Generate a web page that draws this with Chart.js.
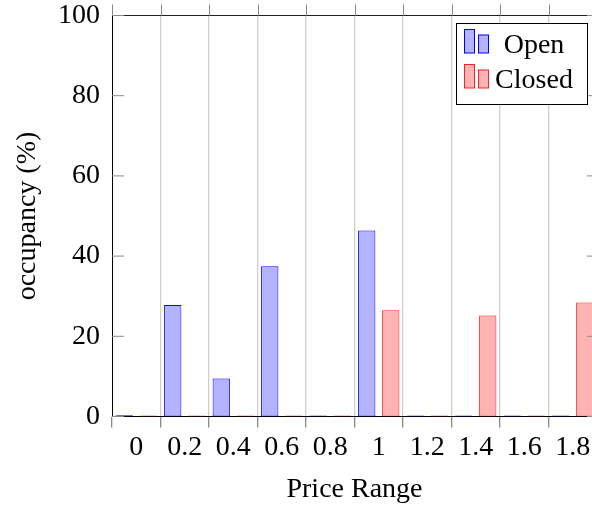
<!DOCTYPE html>
<html>
<head>
<meta charset="utf-8">
<script src="https://cdn.jsdelivr.net/npm/chart.js@4.4.1/dist/chart.umd.min.js"></script>
<style>
  html, body { margin: 0; padding: 0; overflow: hidden; background: #fff; }
  #wrap { width: 620px; height: 506px; }
</style>
</head>
<body>
<div id="wrap"><canvas id="c" width="620" height="506"></canvas></div>
<script>
// ---- data ----
const categories = ['0', '0.2', '0.4', '0.6', '0.8', '1', '1.2', '1.4', '1.6', '1.8'];
const openValues   = [0.3, 27.8, 9.5, 37.5, 0, 46.4, 0, 0, 0, 0];
const closedValues = [0, 0, 0, 0, 0, 26.5, 0, 25.2, 0, 28.4];
const yTicks = [0, 20, 40, 60, 80, 100];
const seriesNames = ['Open', 'Closed'];
const xTitle = 'Price Range';
const yTitle = 'occupancy (%)';

const FONT = "'Liberation Serif', 'Times New Roman', serif";
const TICK_GRAY = '#8a8a8a';

const decorPlugin = {
  id: 'decor',
  afterDraw(chart) {
    const ctx = chart.ctx;
    const ca = chart.chartArea;
    const xs = chart.scales.x, ys = chart.scales.y;
    ctx.save();
    // top axis line
    ctx.strokeStyle = '#222';
    ctx.lineWidth = 1;
    ctx.beginPath();
    ctx.moveTo(ca.left, ca.top);
    ctx.lineTo(ca.right, ca.top);
    ctx.stroke();
    // top x tick marks (outward)
    ctx.strokeStyle = TICK_GRAY;
    ctx.beginPath();
    for (let i = 0; i <= categories.length; i++) {
      const px = Math.round(xs.getPixelForValue(i - 0.5)) + 0.5;
      ctx.moveTo(px, ca.top - 11);
      ctx.lineTo(px, ca.top);
    }
    ctx.stroke();
    // y tick marks inward, left & right
    ctx.beginPath();
    yTicks.forEach(v => {
      const py = ys.getPixelForValue(v);
      ctx.moveTo(ca.left, py);
      ctx.lineTo(ca.left + 12, py);
      ctx.moveTo(ca.right, py);
      ctx.lineTo(ca.right - 10, py);
    });
    ctx.stroke();

    // legend
    const bx = 456.5, by = 23.5, bw = 131, bh = 81;
    ctx.fillStyle = '#fff';
    ctx.fillRect(bx, by, bw, bh);
    ctx.strokeStyle = '#000';
    ctx.lineWidth = 1;
    ctx.strokeRect(bx, by, bw, bh);
    const rows = [53, 88];
    chart.data.datasets.forEach((ds, i) => {
      const base = rows[i];
      ctx.fillStyle = ds.backgroundColor;
      ctx.strokeStyle = ds.borderColor;
      ctx.lineWidth = 1;
      const h1 = 23.5, h2 = 18;
      ctx.fillRect(464.5, base - h1, 10, h1);
      ctx.strokeRect(464.5, base - h1, 10, h1);
      ctx.fillRect(478.5, base - h2, 10, h2);
      ctx.strokeRect(478.5, base - h2, 10, h2);
      ctx.fillStyle = '#000';
      ctx.font = '28px ' + FONT;
      ctx.textAlign = 'center';
      ctx.textBaseline = 'alphabetic';
      ctx.fillText(ds.label, 534, base);
    });
    ctx.restore();
  }
};

new Chart(document.getElementById('c'), {
  type: 'bar',
  data: {
    labels: categories,
    datasets: [
      { label: seriesNames[0], data: openValues, backgroundColor: '#b3b3ff', borderColor: '#0000ff' },
      { label: seriesNames[1], data: closedValues, backgroundColor: '#ffb3b3', borderColor: '#ff2020' }
    ]
  },
  options: {
    responsive: false,
    animation: false,
    devicePixelRatio: 1,
    layout: { padding: { left: 0, top: 15.5, right: 23, bottom: 0 } },
    datasets: {
      bar: {
        borderWidth: 1,
        borderSkipped: false,
        minBarLength: 1,
        categoryPercentage: 0.99,
        barPercentage: 0.72
      }
    },
    plugins: {
      legend: { display: false },
      tooltip: { enabled: false }
    },
    scales: {
      x: {
        type: 'category',
        offset: true,
        afterFit(scale) { scale.height = 89.5; scale.paddingLeft = 0; scale.paddingRight = 0; },
        grid: {
          offset: true,
          display: true,
          drawOnChartArea: true,
          drawTicks: true,
          tickLength: 11,
          color: (c) => (c.index === 0 ? 'rgba(0,0,0,0)' : '#cfcfcf'),
          tickColor: TICK_GRAY,
          lineWidth: 1.3
        },
        border: { display: true, color: '#000', width: 1 },
        ticks: {
          color: '#000',
          font: { family: FONT, size: 28 },
          padding: 3,
          maxRotation: 0,
          autoSkip: false
        },
        title: {
          display: true,
          text: xTitle,
          color: '#000',
          font: { family: FONT, size: 28 },
          padding: { top: 0, bottom: 0 }
        }
      },
      y: {
        min: 0,
        max: 100,
        afterFit(scale) { scale.width = 112; scale.paddingTop = 0; scale.paddingBottom = 0; },
        afterBuildTicks(scale) { scale.ticks = yTicks.map(v => ({ value: v })); },
        grid: { display: false, drawTicks: false },
        border: { display: true, color: '#000', width: 1 },
        ticks: {
          color: '#000',
          font: { family: FONT, size: 28 },
          padding: 12
        },
        title: {
          display: true,
          text: yTitle,
          color: '#000',
          font: { family: FONT, size: 28 },
          padding: { top: 11, bottom: 0 }
        }
      }
    }
  },
  plugins: [decorPlugin]
});
</script>
</body>
</html>
